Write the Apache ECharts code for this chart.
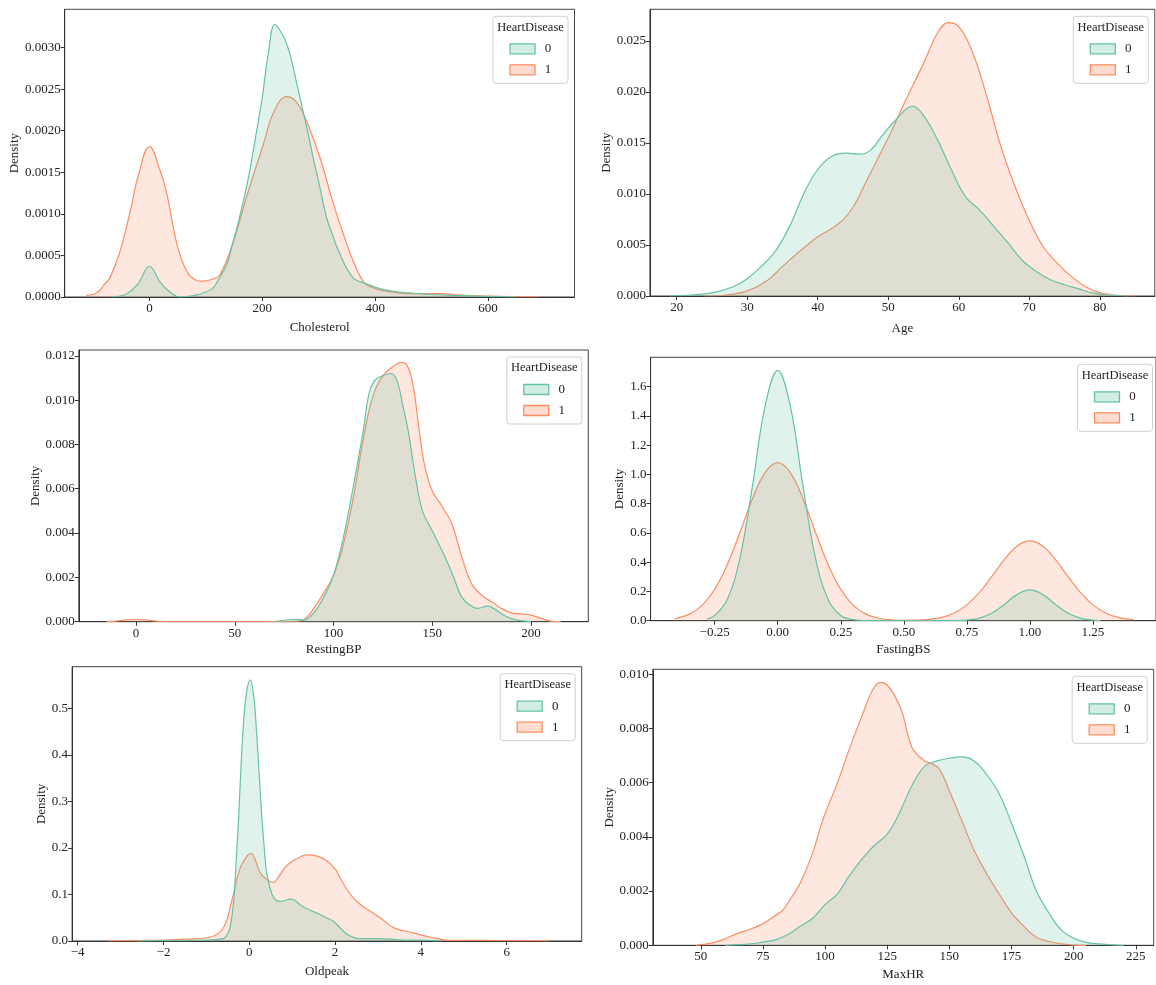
<!DOCTYPE html>
<html><head><meta charset="utf-8">
<script src="https://cdn.jsdelivr.net/npm/echarts@6/dist/echarts.min.js"></script>
<style>html,body{margin:0;padding:0;background:#fff}#c{width:1156px;height:985px}</style>
</head><body><div id="c"></div>
<script>
// ---------- DATA ----------
const legendTitle = 'HeartDisease';
const classes = ['0', '1'];

// Cholesterol
const cholX0 = [-67,-40,-20,0,20,40,55,80,100,113,120,137,146,155,160,172,180,196,200,210,222,230,240,249,260,272,280,290,300,314,320,338,361,384,408,430,460,500,540,580,620,650];
const cholY0 = [0,0.00004,0.00016,0.00037,0.00017,0.00004,0,0.00002,0.00006,0.00011,0.00018,0.00039,0.00061,0.00083,0.00097,0.00132,0.0016,0.00224,0.0024,0.0029,0.00328,0.00322,0.0031,0.00292,0.0026,0.00224,0.002,0.00168,0.00138,0.00095,0.00083,0.00051,0.00023,0.00016,0.0001,0.00007,0.00005,0.00003,0.00002,0.00001,0.000005,0];
const cholX1 = [-112,-93,-80,-70,-52,-34,-20,0,20,31,49,66,80,93,110,125,149,172,202,220,243,260,278,302,326,350,360,380,400,420,440,460,480,500,520,540,560,580,600,640,690];
const cholY1 = [0.00002,0.00005,0.00015,0.00023,0.00055,0.00103,0.00145,0.00181,0.0015,0.00124,0.00063,0.00031,0.00021,0.00019,0.00021,0.00027,0.00067,0.0012,0.00184,0.00222,0.00241,0.00235,0.00212,0.00168,0.00112,0.00063,0.00045,0.00018,0.0001,0.00007,0.00005,0.00004,0.00004,0.00004,0.00004,0.00003,0.00002,0.000015,0.00001,0.000005,0];
const cholTicks = [0,200,400,600];
const cholDens = [0,0.0005,0.001,0.0015,0.002,0.0025,0.003];

// Age
const ageX0 = [19,22,25,28,30,32,34,36,38,40,42,44,46,47.5,49,51,53.5,55,57,59,61,63,65,67,69,71,73,75,77,79,81,84];
const ageY0 = [0,0.0001,0.0003,0.0009,0.0017,0.0029,0.0044,0.0068,0.01,0.0124,0.0137,0.014,0.0139,0.0143,0.0156,0.0172,0.0186,0.0177,0.0153,0.0123,0.0097,0.0084,0.0068,0.0052,0.0035,0.0024,0.0016,0.0011,0.0007,0.0003,0.0001,0];
const ageX1 = [24,27,30,33,35,38,40,43,45,47,50,52,55,57,58.5,60,62,64,66,68,70,72,74,76,78,80,82,85];
const ageY1 = [0,0.0001,0.0005,0.0016,0.0029,0.0047,0.0058,0.0071,0.0087,0.0114,0.0155,0.0185,0.0228,0.0258,0.0268,0.0264,0.0238,0.0195,0.0146,0.0107,0.0074,0.0048,0.0032,0.0019,0.0009,0.0003,0.0001,0];
const ageTicks = [20,30,40,50,60,70,80];
const ageDens = [0,0.005,0.01,0.015,0.02,0.025];

// RestingBP
const bpX0 = [70,80,85,90,95,100,105,110,115,118,121,125,129,132,135,138,141,145,150,155,160,165,170,173,178,182,186,190,195,200];
const bpY0 = [0,0.0001,0.00008,0.0004,0.0011,0.0021,0.0038,0.0061,0.0086,0.0103,0.0109,0.0111,0.0112,0.0109,0.0098,0.0085,0.0068,0.005,0.0041,0.0032,0.0022,0.0011,0.0007,0.0006,0.0007,0.00055,0.0003,0.00014,0.00005,0];
const bpX1 = [-15,-10,-5,0,5,10,15,20,50,80,85,90,95,100,105,110,115,120,125,130,134,137,140,143,146,150,155,160,165,170,175,180,185,190,195,200,205,210,215];
const bpY1 = [0,0.00003,0.00008,0.0001,0.00008,0.00003,0.00001,0,0,0.00002,0.0001,0.0006,0.0013,0.0021,0.0035,0.0056,0.0082,0.0102,0.0111,0.0115,0.0117,0.0116,0.0108,0.0089,0.0071,0.0059,0.0052,0.0044,0.0029,0.0017,0.0012,0.0009,0.0006,0.0004,0.00035,0.0003,0.00015,0.00003,0];
const bpTicks = [0,50,100,150,200];
const bpDens = [0,0.002,0.004,0.006,0.008,0.01,0.012];

// FastingBS
const fbsX0 = [-0.28,-0.25,-0.2,-0.15,-0.1,-0.05,0,0.05,0.1,0.15,0.2,0.25,0.3,0.35,0.4,0.5,0.6,0.7,0.72,0.75,0.8,0.85,0.9,0.95,1.0,1.05,1.1,1.15,1.2,1.25,1.28];
const fbsY0 = [0.012,0.036,0.145,0.426,0.922,1.466,1.71,1.466,0.922,0.426,0.145,0.036,0.007,0.001,0,0,0,0.0008,0.0015,0.0044,0.018,0.052,0.113,0.18,0.21,0.18,0.113,0.052,0.018,0.0044,0.0015];
const fbsX1 = [-0.41,-0.4,-0.35,-0.3,-0.25,-0.2,-0.15,-0.1,-0.05,0,0.05,0.1,0.15,0.2,0.25,0.3,0.35,0.4,0.45,0.5,0.55,0.6,0.65,0.7,0.75,0.8,0.85,0.9,0.95,1.0,1.05,1.1,1.15,1.2,1.25,1.3,1.35,1.4,1.41];
const fbsY1 = [0.014,0.017,0.045,0.105,0.214,0.383,0.603,0.834,1.012,1.08,1.012,0.834,0.603,0.383,0.214,0.105,0.045,0.017,0.006,0.0025,0.0033,0.0087,0.023,0.053,0.108,0.193,0.304,0.421,0.511,0.545,0.511,0.421,0.304,0.193,0.108,0.053,0.023,0.0086,0.007];
const fbsTicks = [-0.25,0,0.25,0.5,0.75,1,1.25];
const fbsDens = [0,0.2,0.4,0.6,0.8,1.0,1.2,1.4,1.6];

// Oldpeak
const opX0 = [-2.6,-2,-1.5,-1,-0.6,-0.5,-0.45,-0.4,-0.35,-0.3,-0.25,-0.2,-0.14,-0.07,0.02,0.1,0.17,0.23,0.29,0.35,0.4,0.48,0.56,0.7,0.8,0.95,1.05,1.2,1.4,1.6,1.8,1.95,2.1,2.27,2.4,2.58,3.0,3.3,3.6,4.0,4.5];
const opY0 = [0,0.001,0.001,0.002,0.005,0.016,0.028,0.055,0.1,0.18,0.26,0.36,0.46,0.53,0.561,0.53,0.45,0.36,0.27,0.2,0.15,0.115,0.095,0.085,0.086,0.09,0.088,0.077,0.067,0.059,0.05,0.043,0.03,0.015,0.009,0.005,0.005,0.004,0.002,0.002,0];
const opX1 = [-3.3,-2.5,-2,-1.5,-0.92,-0.6,-0.41,-0.22,-0.05,0.05,0.15,0.25,0.4,0.56,0.7,0.85,1.03,1.2,1.34,1.6,1.8,2.0,2.11,2.25,2.42,2.6,2.74,3.05,3.36,3.6,3.82,4.0,4.29,4.6,5,6,7];
const opY1 = [0,0.001,0.002,0.004,0.008,0.029,0.086,0.155,0.183,0.188,0.172,0.147,0.133,0.126,0.14,0.16,0.173,0.181,0.185,0.182,0.173,0.155,0.137,0.115,0.093,0.078,0.069,0.05,0.029,0.022,0.018,0.013,0.007,0.002,0.0015,0.001,0];
const opTicks = [-4,-2,0,2,4,6];
const opDens = [0,0.1,0.2,0.3,0.4,0.5];

// MaxHR
const hrX0 = [60,70,75,80,85,90,95,100,105,110,115,120,125,130,135,140,145,150,155,160,165,170,175,180,185,190,195,200,205,210,215,220];
const hrY0 = [0,0.00005,0.00012,0.0002,0.0004,0.0007,0.001,0.0015,0.0019,0.0026,0.0032,0.0037,0.0041,0.0049,0.0059,0.0066,0.0068,0.0069,0.00695,0.0068,0.0063,0.0056,0.0045,0.0033,0.002,0.0012,0.00057,0.00026,0.00011,0.00005,0.00002,0];
const hrX1 = [48,55,60,65,70,75,80,83,86,90,95,99,105,110,115,119,122.3,125,128,131,135,140,143,146,150,155,160,165,170,175,180,185,190,195,200,205];
const hrY1 = [0,0.0001,0.00025,0.00045,0.0006,0.0008,0.0011,0.0013,0.0017,0.0023,0.0034,0.0046,0.006,0.0073,0.0085,0.0094,0.0097,0.0096,0.0092,0.0086,0.0073,0.0068,0.0067,0.0065,0.0057,0.0046,0.0035,0.00265,0.0019,0.0012,0.0007,0.0003,0.00014,0.00005,0.00001,0];
const hrTicks = [50,75,100,125,150,175,200,225];
const hrDens = [0,0.002,0.004,0.006,0.008,0.01];

// ---------- LAYOUT / STYLE ----------
const FONT = 'Liberation Serif';
const LINE = ['#66c2a5', '#fc8d62'];
const FILL = ['rgba(102,194,165,0.3)', 'rgba(252,141,98,0.3)'];

const panels = [
  {name:'Cholesterol', s:[[cholX0,cholY0],[cholX1,cholY1]], xt:cholTicks, yt:cholDens, xd:0, yd:4,
   g:{left:64.7, top:9.3, width:509.8, height:287.7}, xr:[-150,753], ymax:0.00346, yGap:43, xGap:24},
  {name:'Age', s:[[ageX0,ageY0],[ageX1,ageY1]], xt:ageTicks, yt:ageDens, xd:0, yd:3,
   g:{left:649.9, top:9.3, width:504.9, height:286.7}, xr:[16.2,87.8], ymax:0.0281, yGap:35, xGap:26},
  {name:'RestingBP', s:[[bpX0,bpY0],[bpX1,bpY1]], xt:bpTicks, yt:bpDens, xd:0, yd:3,
   g:{left:78.8, top:350, width:509.5, height:271.7}, xr:[-29,229], ymax:0.01226, yGap:37, xGap:21},
  {name:'FastingBS', s:[[fbsX0,fbsY0],[fbsX1,fbsY1]], xt:fbsTicks, yt:fbsDens, xd:2, yd:1,
   g:{left:650.6, top:357.3, width:508.4, height:263.4}, xr:[-0.504,1.5], ymax:1.80, yGap:23, xGap:22},
  {name:'Oldpeak', s:[[opX0,opY0],[opX1,opY1]], xt:opTicks, yt:opDens, xd:0, yd:1,
   g:{left:72.1, top:666.7, width:509.6, height:274.3}, xr:[-4.13,7.75], ymax:0.5895, yGap:24, xGap:24},
  {name:'MaxHR', s:[[hrX0,hrY0],[hrX1,hrY1]], xt:hrTicks, yt:hrDens, xd:0, yd:3,
   g:{left:652.8, top:669.3, width:500.9, height:276}, xr:[30.7,232.2], ymax:0.01018, yGap:35, xGap:23}
];

function fmt(v, d) {
  return Number(v).toFixed(d).replace('-', '\u2212');
}
const pairs = (xs, ys) => xs.map((x, k) => [x, ys[k]]);

const grids = [], xAxes = [], yAxes = [], series = [], graphics = [];
const txt = {fontFamily: FONT, fontSize: 13, color: '#222'};

panels.forEach((p, i) => {
  grids.push(Object.assign({show: true, borderColor: '#444', borderWidth: 1, backgroundColor: 'transparent'}, p.g));
  xAxes.push({
    type: 'value', gridIndex: i, min: p.xr[0], max: p.xr[1],
    axisLine: {show: true, onZero: false, lineStyle: {color: '#333', width: 1}},
    axisTick: {show: true, customValues: p.xt, length: 4, lineStyle: {color: '#333'}},
    axisLabel: Object.assign({customValues: p.xt, margin: 5, formatter: v => fmt(v, p.xd)}, txt),
    splitLine: {show: false},
    name: p.name, nameLocation: 'middle', nameGap: p.xGap, nameTextStyle: txt
  });
  yAxes.push({
    type: 'value', gridIndex: i, min: 0, max: p.ymax,
    axisLine: {show: true, onZero: false, lineStyle: {color: '#333', width: 1}},
    axisTick: {show: true, customValues: p.yt, length: 4, lineStyle: {color: '#333'}},
    axisLabel: Object.assign({customValues: p.yt, margin: 4, formatter: v => fmt(v, p.yd)}, txt),
    splitLine: {show: false},
    name: 'Density', nameLocation: 'middle', nameGap: p.yGap, nameRotate: 90, nameTextStyle: txt
  });
  // draw class 1 first, class 0 on top (as in the reference)
  [1, 0].forEach(c => {
    const sd = p.s[c];
    series.push({
      type: 'line', name: classes[c], xAxisIndex: i, yAxisIndex: i,
      data: pairs(sd[0], sd[1]), showSymbol: false, smooth: 0.4,
      lineStyle: {color: LINE[c], width: 1.2},
      itemStyle: {color: LINE[c]},
      areaStyle: {color: FILL[c], origin: 'start'},
      silent: true, z: 3 - c
    });
  });
  // legend box
  const bw = 75, bh = 67;
  const bx = p.g.left + p.g.width - 6.5 - bw;
  const by = p.g.top + 7;
  const ch = [
    {type: 'rect', shape: {x: 0, y: 0, width: bw, height: bh, r: 3}, style: {fill: 'rgba(255,255,255,0.85)', stroke: '#d0d0d0', lineWidth: 1}},
    {type: 'text', x: bw / 2, y: 11, style: {text: legendTitle, font: '12.5px "' + FONT + '"', fill: '#222', textAlign: 'center', textVerticalAlign: 'middle'}}
  ];
  classes.forEach((lab, c) => {
    const py = 27.5 + c * 21;
    ch.push({type: 'rect', shape: {x: 17, y: py, width: 25, height: 10}, style: {fill: FILL[c], stroke: LINE[c], lineWidth: 1.3}});
    ch.push({type: 'text', x: 55, y: py + 5, style: {text: lab, font: '13px "' + FONT + '"', fill: '#222', textAlign: 'center', textVerticalAlign: 'middle'}});
  });
  graphics.push({type: 'group', x: bx, y: by, z: 100, children: ch});
});

const chart = echarts.init(document.getElementById('c'), null, {renderer: 'canvas'});
chart.setOption({
  animation: false,
  backgroundColor: '#fff',
  grid: grids, xAxis: xAxes, yAxis: yAxes, series: series,
  graphic: graphics
});
</script></body></html>
